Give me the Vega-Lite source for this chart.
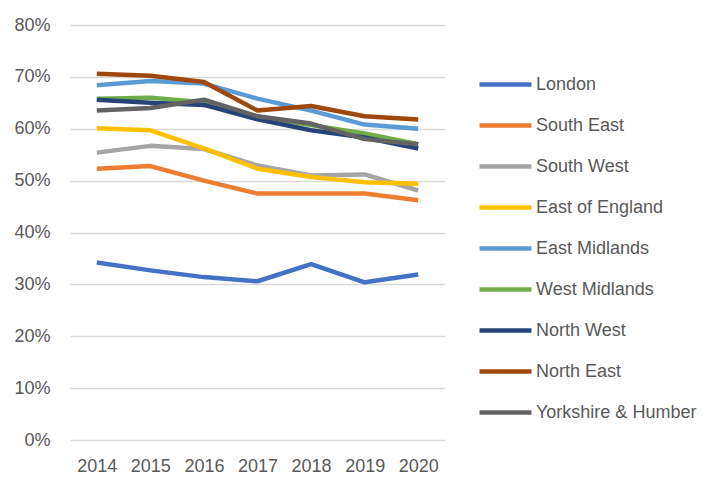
{
  "$schema": "https://vega.github.io/schema/vega-lite/v6.json",
  "width": 375,
  "height": 415,
  "autosize": {"type": "none"},
  "padding": {"left": 70, "top": 25, "right": 273, "bottom": 37},
  "background": "white",
  "config": {
    "view": {"stroke": null},
    "font": "Liberation Sans"
  },
  "data": {
    "values": [
      {"region": "London", "year": "2014", "v": 0.342},
      {"region": "London", "year": "2015", "v": 0.327},
      {"region": "London", "year": "2016", "v": 0.314},
      {"region": "London", "year": "2017", "v": 0.306},
      {"region": "London", "year": "2018", "v": 0.339},
      {"region": "London", "year": "2019", "v": 0.304},
      {"region": "London", "year": "2020", "v": 0.319},
      {"region": "South East", "year": "2014", "v": 0.523},
      {"region": "South East", "year": "2015", "v": 0.528},
      {"region": "South East", "year": "2016", "v": 0.500},
      {"region": "South East", "year": "2017", "v": 0.475},
      {"region": "South East", "year": "2018", "v": 0.475},
      {"region": "South East", "year": "2019", "v": 0.475},
      {"region": "South East", "year": "2020", "v": 0.462},
      {"region": "South West", "year": "2014", "v": 0.554},
      {"region": "South West", "year": "2015", "v": 0.567},
      {"region": "South West", "year": "2016", "v": 0.561},
      {"region": "South West", "year": "2017", "v": 0.529},
      {"region": "South West", "year": "2018", "v": 0.510},
      {"region": "South West", "year": "2019", "v": 0.512},
      {"region": "South West", "year": "2020", "v": 0.481},
      {"region": "East of England", "year": "2014", "v": 0.601},
      {"region": "East of England", "year": "2015", "v": 0.597},
      {"region": "East of England", "year": "2016", "v": 0.562},
      {"region": "East of England", "year": "2017", "v": 0.523},
      {"region": "East of England", "year": "2018", "v": 0.507},
      {"region": "East of England", "year": "2019", "v": 0.497},
      {"region": "East of England", "year": "2020", "v": 0.494},
      {"region": "East Midlands", "year": "2014", "v": 0.684},
      {"region": "East Midlands", "year": "2015", "v": 0.692},
      {"region": "East Midlands", "year": "2016", "v": 0.687},
      {"region": "East Midlands", "year": "2017", "v": 0.658},
      {"region": "East Midlands", "year": "2018", "v": 0.635},
      {"region": "East Midlands", "year": "2019", "v": 0.608},
      {"region": "East Midlands", "year": "2020", "v": 0.600},
      {"region": "West Midlands", "year": "2014", "v": 0.658},
      {"region": "West Midlands", "year": "2015", "v": 0.660},
      {"region": "West Midlands", "year": "2016", "v": 0.651},
      {"region": "West Midlands", "year": "2017", "v": 0.623},
      {"region": "West Midlands", "year": "2018", "v": 0.607},
      {"region": "West Midlands", "year": "2019", "v": 0.591},
      {"region": "West Midlands", "year": "2020", "v": 0.570},
      {"region": "North West", "year": "2014", "v": 0.656},
      {"region": "North West", "year": "2015", "v": 0.650},
      {"region": "North West", "year": "2016", "v": 0.646},
      {"region": "North West", "year": "2017", "v": 0.618},
      {"region": "North West", "year": "2018", "v": 0.597},
      {"region": "North West", "year": "2019", "v": 0.583},
      {"region": "North West", "year": "2020", "v": 0.562},
      {"region": "North East", "year": "2014", "v": 0.706},
      {"region": "North East", "year": "2015", "v": 0.702},
      {"region": "North East", "year": "2016", "v": 0.690},
      {"region": "North East", "year": "2017", "v": 0.635},
      {"region": "North East", "year": "2018", "v": 0.644},
      {"region": "North East", "year": "2019", "v": 0.624},
      {"region": "North East", "year": "2020", "v": 0.618},
      {"region": "Yorkshire & Humber", "year": "2014", "v": 0.635},
      {"region": "Yorkshire & Humber", "year": "2015", "v": 0.640},
      {"region": "Yorkshire & Humber", "year": "2016", "v": 0.656},
      {"region": "Yorkshire & Humber", "year": "2017", "v": 0.624},
      {"region": "Yorkshire & Humber", "year": "2018", "v": 0.610},
      {"region": "Yorkshire & Humber", "year": "2019", "v": 0.580},
      {"region": "Yorkshire & Humber", "year": "2020", "v": 0.570}
    ]
  },
  "mark": {"type": "line", "strokeWidth": 4.5, "strokeCap": "butt", "strokeJoin": "round"},
  "encoding": {
    "x": {
      "field": "year", "type": "ordinal",
      "scale": {"type": "point", "padding": 0.5},
      "axis": {"title": null, "labelAngle": 0, "domain": false, "ticks": false, "grid": false,
               "labelFontSize": 18, "labelColor": "#595959", "labelPadding": 17}
    },
    "y": {
      "field": "v", "type": "quantitative",
      "scale": {"domain": [0, 0.8], "nice": false},
      "axis": {"title": null, "format": ".0%", "values": [0, 0.1, 0.2, 0.3, 0.4, 0.5, 0.6, 0.7, 0.8],
               "domain": false, "ticks": false, "gridColor": "#D9D9D9", "gridWidth": 1.3,
               "labelFontSize": 18, "labelColor": "#595959", "labelPadding": 20}
    },
    "color": {
      "field": "region", "type": "nominal",
      "sort": ["London", "South East", "South West", "East of England", "East Midlands", "West Midlands", "North West", "North East", "Yorkshire & Humber"],
      "scale": {
        "domain": ["London", "South East", "South West", "East of England", "East Midlands", "West Midlands", "North West", "North East", "Yorkshire & Humber"],
        "range": ["#4472C4", "#ED7D31", "#A5A5A5", "#FFC000", "#5B9BD5", "#70AD47", "#264478", "#9E480E", "#636363"]
      },
      "legend": {
        "title": null, "orient": "none", "legendX": 407, "legendY": 31,
        "symbolType": "stroke", "symbolSize": 2700, "symbolStrokeWidth": 4.5,
        "labelFontSize": 18, "labelColor": "#595959", "labelOffset": 2,
        "rowPadding": 3, "labelLimit": 300
      }
    },
    "order": {"field": "region"}
  }
}
